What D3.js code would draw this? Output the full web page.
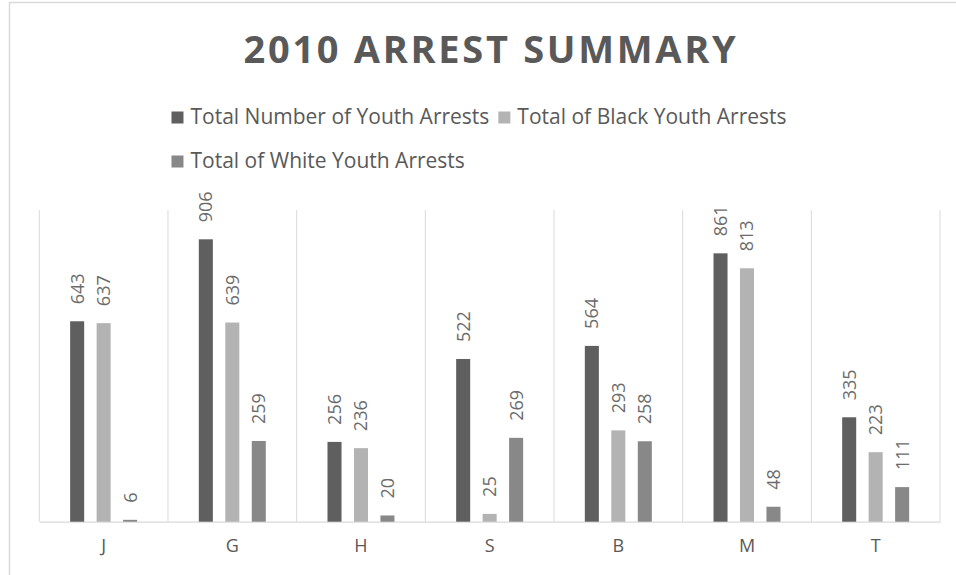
<!DOCTYPE html>
<html>
<head>
<meta charset="utf-8">
<script src="https://cdn.jsdelivr.net/npm/d3@7"></script>
<style>
  html, body { margin: 0; padding: 0; background: #ffffff; }
  svg { display: block; font-family: "Open Sans", "DejaVu Sans", sans-serif; }
</style>
</head>
<body>
<svg id="chart" width="956" height="575"></svg>
<script>
// Youth arrests by area, 2010
const categories = ["J", "G", "H", "S", "B", "M", "T"];
const seriesNames = [
  "Total Number of Youth Arrests",
  "Total of Black Youth Arrests",
  "Total of White Youth Arrests"
];
const totalArrests = [643, 906, 256, 522, 564, 861, 335];
const blackArrests = [637, 639, 236, 25, 293, 813, 223];
const whiteArrests = [6, 259, 20, 269, 258, 48, 111];
const seriesColors = ["#5f5f5f", "#b3b3b3", "#888888"];
const yDomain = [0, 1000];
const titleText = "2010 ARREST SUMMARY";

const seriesValues = [totalArrests, blackArrests, whiteArrests];
const textColor = "#595959";
const lineColor = "#d9d9d9";

const svg = d3.select("#chart");

// chart border (top and left edges visible)
svg.append("path")
  .attr("d", "M9.5,575 L9.5,2.5 L956,2.5")
  .attr("fill", "none")
  .attr("stroke", lineColor)
  .attr("stroke-width", 1.5);

// title
svg.append("text")
  .attr("x", 491)
  .attr("y", 63)
  .attr("text-anchor", "middle")
  .attr("font-size", 38)
  .attr("font-weight", "bold")
  .attr("fill", textColor)
  .attr("letter-spacing", "2.7px")
  .text(titleText);

// legend: first row centred, second row starts under the first
const legendFont = 21;
const sw = 12, gapAfterSwatch = 7, gapBetween = 9;
const legend = svg.append("g");
const items = seriesNames.map((name, i) => {
  const g = legend.append("g");
  g.append("rect").attr("width", sw).attr("height", sw).attr("fill", seriesColors[i]);
  const t = g.append("text")
    .attr("x", sw + gapAfterSwatch)
    .attr("y", sw + 0.5)
    .attr("font-size", legendFont)
    .attr("fill", textColor)
    .text(name);
  return { g, w: sw + gapAfterSwatch + t.node().getComputedTextLength() };
});
const row1 = [items[0], items[1]];
const row1Width = row1[0].w + gapBetween + row1[1].w;
const row1Start = 479 - row1Width / 2;
row1[0].g.attr("transform", `translate(${row1Start},111.5)`);
row1[1].g.attr("transform", `translate(${row1Start + row1[0].w + gapBetween},111.5)`);
items[2].g.attr("transform", `translate(${row1Start},155.5)`);

// plot scales
const plotLeft = 39.3, plotRight = 940, plotTop = 210, plotBottom = 521.7;
const x0 = d3.scaleBand().domain(categories).range([plotLeft, plotRight]).padding(0);
const x1 = d3.scaleBand().domain(d3.range(seriesNames.length))
  .range([0, x0.bandwidth()]).paddingInner(0.47).paddingOuter(1.165);
const y = d3.scaleLinear().domain(yDomain).range([plotBottom, plotTop]);

// vertical gridlines at category boundaries
const bounds = categories.map(c => x0(c)).concat([x0(categories[categories.length - 1]) + x0.bandwidth()]);
svg.append("g").selectAll("line").data(bounds).join("line")
  .attr("x1", d => d).attr("x2", d => d)
  .attr("y1", plotTop).attr("y2", plotBottom)
  .attr("stroke", lineColor).attr("stroke-width", 1);

// category axis
const xAxis = svg.append("g")
  .attr("transform", `translate(0,${plotBottom})`)
  .call(d3.axisBottom(x0).tickSize(0).tickPadding(18));
xAxis.select(".domain").attr("stroke", lineColor).attr("stroke-width", 1.3);
xAxis.selectAll("text")
  .attr("font-family", "Open Sans, sans-serif")
  .attr("font-size", 18)
  .attr("fill", textColor);

// bars and value labels
const rows = categories.map((c, ci) => ({
  cat: c,
  vals: seriesValues.map((s, si) => ({ si, v: s[ci] }))
}));
const groups = svg.append("g").selectAll("g").data(rows).join("g")
  .attr("transform", d => `translate(${x0(d.cat)},0)`);

groups.selectAll("rect").data(d => d.vals).join("rect")
  .attr("x", d => x1(d.si))
  .attr("y", d => y(d.v))
  .attr("width", x1.bandwidth())
  .attr("height", d => y(0) - y(d.v))
  .attr("fill", d => seriesColors[d.si]);

groups.selectAll("text").data(d => d.vals).join("text")
  .attr("transform", d => `translate(${x1(d.si) + x1.bandwidth() / 2},${y(d.v) - 17}) rotate(-90)`)
  .attr("dy", "0.36em")
  .attr("text-anchor", "start")
  .attr("font-size", 18)
  .attr("fill", "#6b6b6b")
  .text(d => d.v);
</script>
</body>
</html>
